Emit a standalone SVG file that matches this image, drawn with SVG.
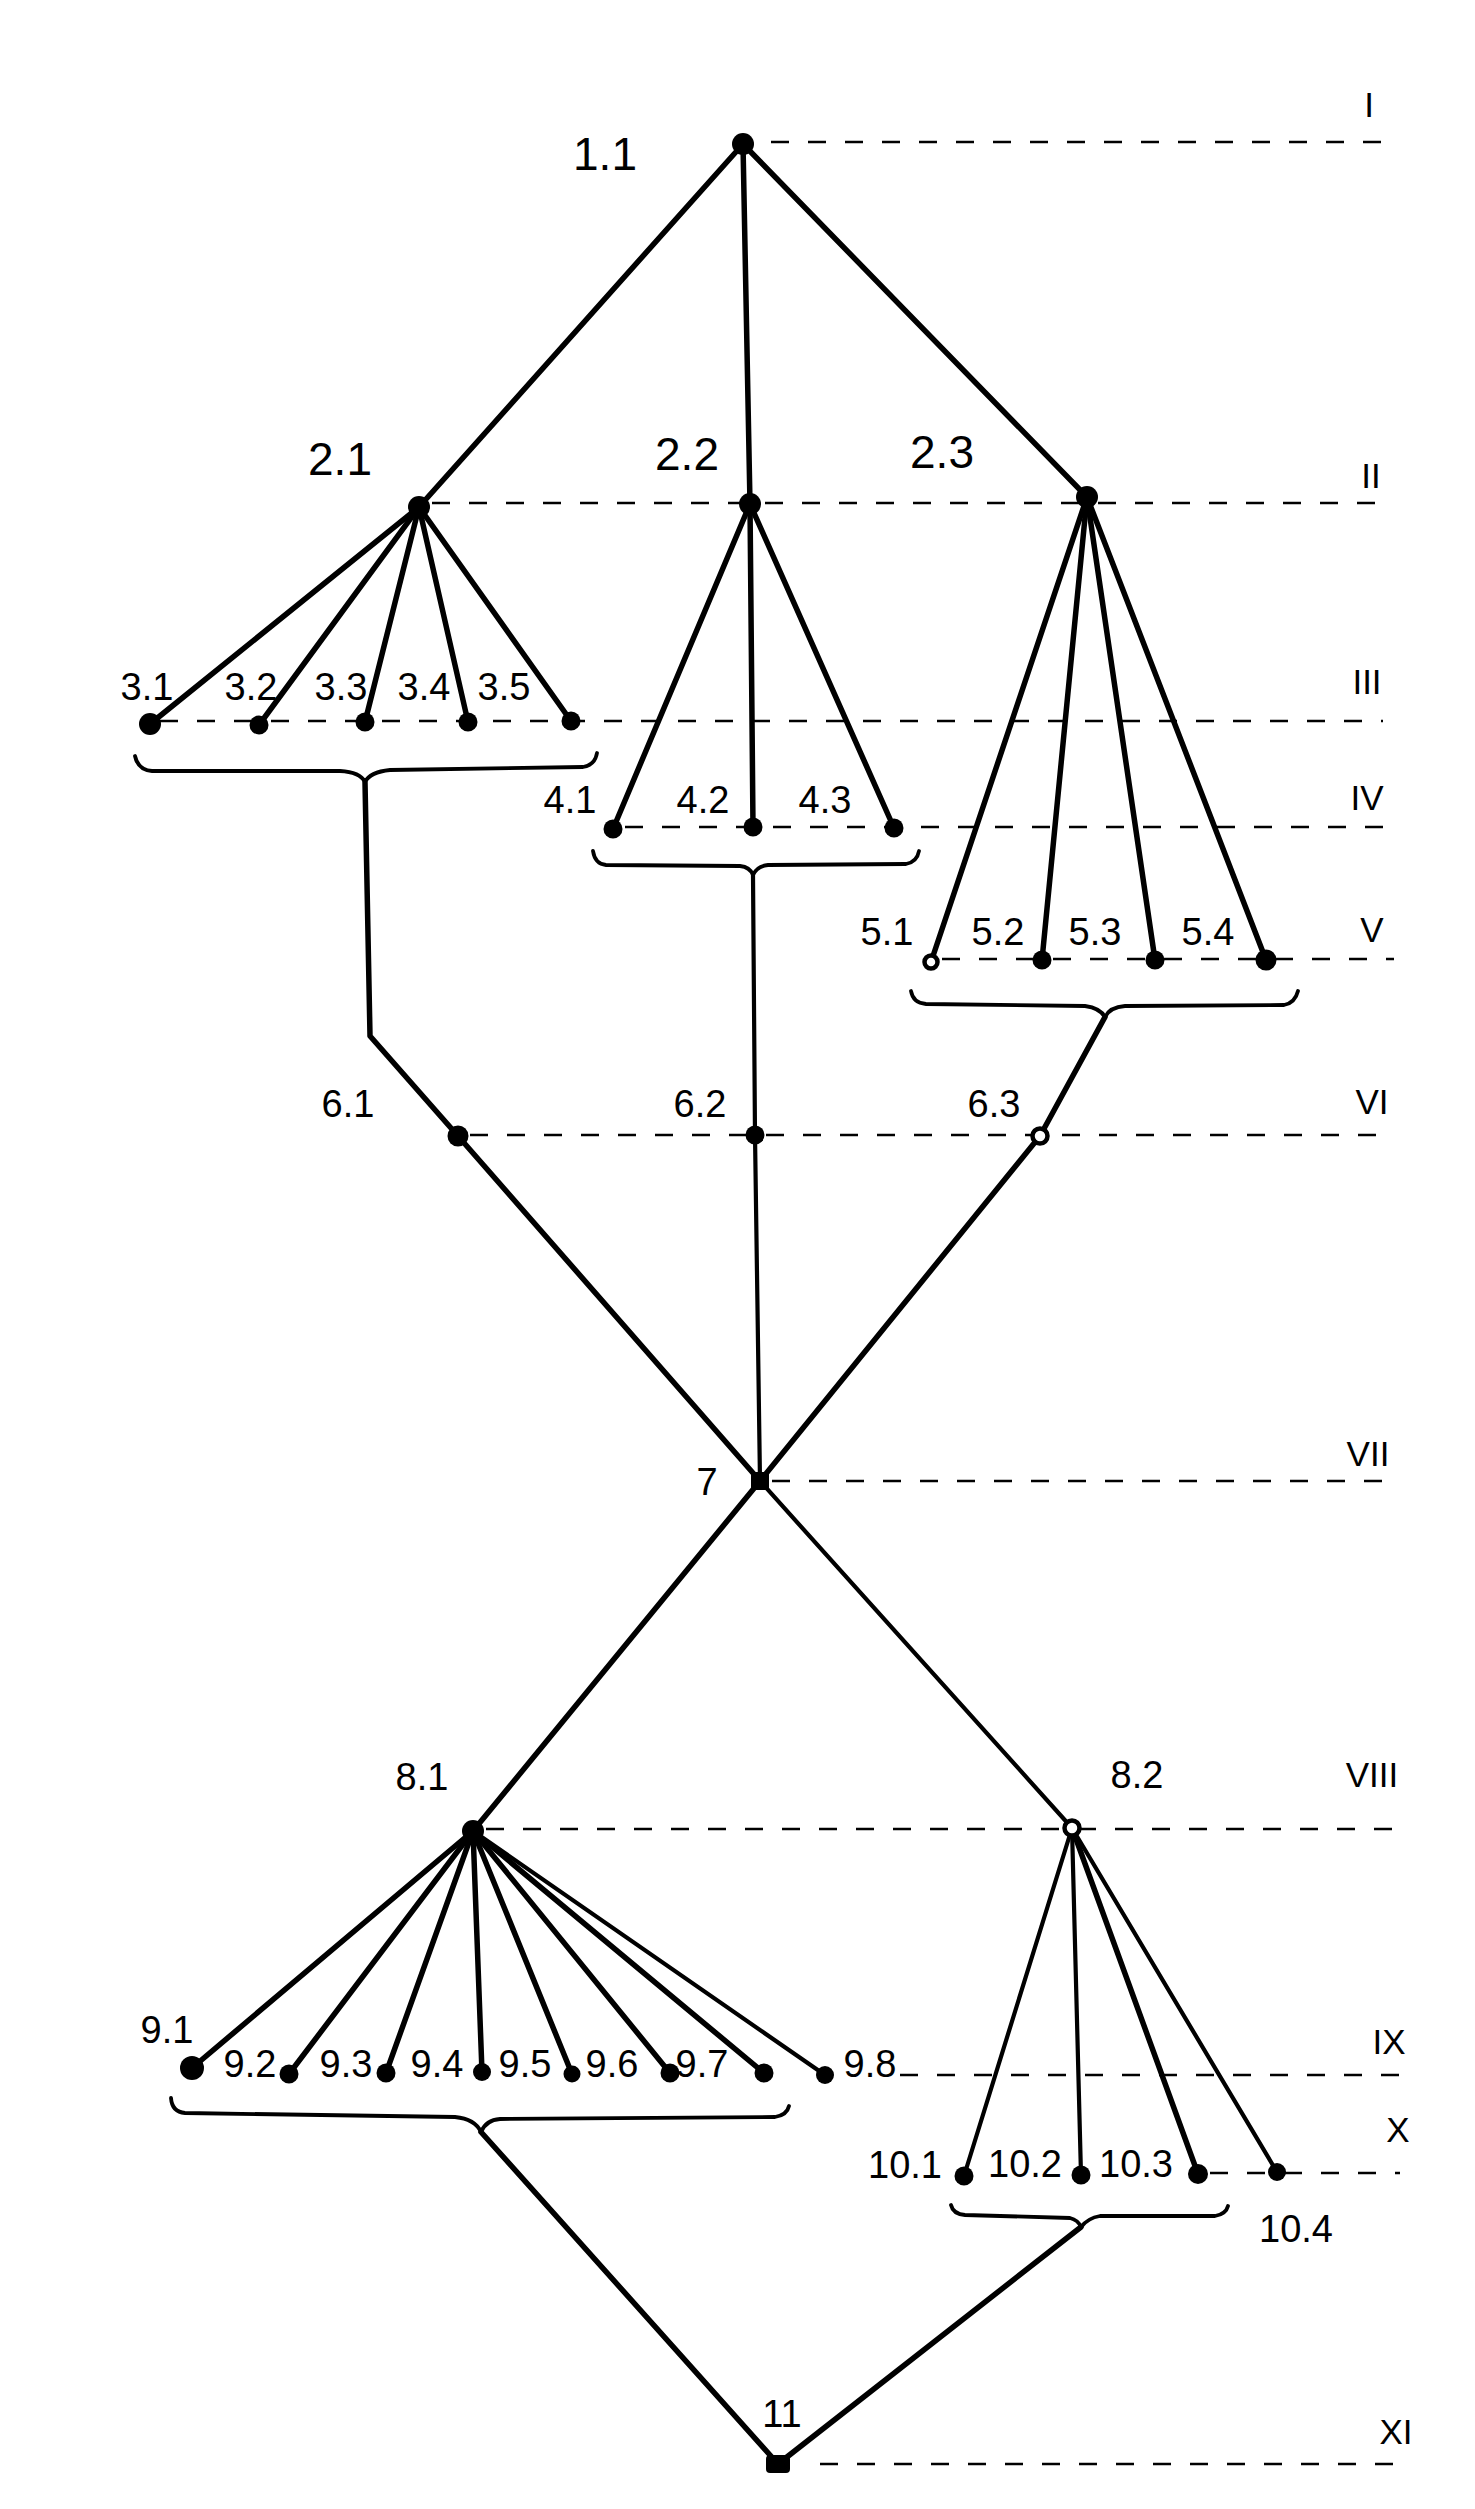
<svg xmlns="http://www.w3.org/2000/svg" width="1475" height="2509" viewBox="0 0 1475 2509">
<style>
text{font-family:"Liberation Sans",Arial,sans-serif;fill:#000;text-anchor:middle}
.big{font-size:46px}
.lab{font-size:38px}
.lvl{font-size:35px}
.c{stroke:#000;stroke-width:5.5;fill:none;stroke-linecap:round;stroke-linejoin:round}
.t{stroke:#000;stroke-width:4.2;fill:none;stroke-linecap:round}
.br{stroke:#000;stroke-width:3.8;fill:none;stroke-linecap:round;stroke-linejoin:round}
.d{stroke:#000;stroke-width:2.6;stroke-dasharray:18 19;fill:none}
.n{fill:#000}
.o{fill:#fff;stroke:#000;stroke-width:4.5}
</style>
<rect width="1475" height="2509" fill="#fff"/>
<g id="levels">
<line class="d" x1="771" y1="142" x2="1383" y2="142"/>
<line class="d" x1="432" y1="503" x2="1389" y2="503"/>
<line class="d" x1="160" y1="721" x2="1383" y2="721"/>
<line class="d" x1="625" y1="827" x2="1394" y2="827"/>
<line class="d" x1="942" y1="959" x2="1394" y2="959"/>
<line class="d" x1="470" y1="1135" x2="1394" y2="1135"/>
<line class="d" x1="772" y1="1481" x2="1398" y2="1481"/>
<line class="d" x1="486" y1="1829" x2="1403" y2="1829"/>
<line class="d" x1="900" y1="2075" x2="1403" y2="2075"/>
<line class="d" x1="1210" y1="2173" x2="1400" y2="2173"/>
<line class="d" x1="820" y1="2464" x2="1397" y2="2464"/>
<text class="lvl" x="1369" y="117">I</text>
<text class="lvl" x="1371" y="488">II</text>
<text class="lvl" x="1367" y="694">III</text>
<text class="lvl" x="1367" y="810">IV</text>
<text class="lvl" x="1372" y="942">V</text>
<text class="lvl" x="1372" y="1114">VI</text>
<text class="lvl" x="1368" y="1466">VII</text>
<text class="lvl" x="1372" y="1787">VIII</text>
<text class="lvl" x="1389" y="2054">IX</text>
<text class="lvl" x="1398" y="2142">X</text>
<text class="lvl" x="1396" y="2444">XI</text>
</g>
<g id="connectors">
<line class="c" x1="743" y1="144" x2="419" y2="507"/>
<line class="c" x1="743" y1="144" x2="750" y2="504"/>
<line class="c" x1="743" y1="144" x2="1087" y2="497"/>
<line class="c" x1="419" y1="507" x2="150" y2="724"/>
<line class="c" x1="419" y1="507" x2="259" y2="725"/>
<line class="c" x1="419" y1="507" x2="365" y2="722"/>
<line class="c" x1="419" y1="507" x2="468" y2="722"/>
<line class="c" x1="419" y1="507" x2="571" y2="721"/>
<line class="c" x1="750" y1="504" x2="613" y2="829"/>
<line class="c" x1="750" y1="504" x2="753" y2="827"/>
<line class="c" x1="750" y1="504" x2="894" y2="828"/>
<line class="c" x1="1087" y1="497" x2="931" y2="962"/>
<line class="c" x1="1087" y1="497" x2="1042" y2="960"/>
<line class="c" x1="1087" y1="497" x2="1155" y2="960"/>
<line class="c" x1="1087" y1="497" x2="1266" y2="960"/>
<path class="br" d="M135,756 Q138,770 152,771 L340,771 Q360,772 365,782 Q370,772 390,770 L583,767 Q595,765 597,753"/>
<path class="br" d="M593,851 Q595,864 606,865 L740,866 Q750,867 753,875 Q757,866 768,865 L906,864 Q917,862 919,851"/>
<path class="br" d="M911,991 Q913,1003 926,1004 L1085,1006 Q1100,1008 1105,1017 Q1110,1007 1125,1006 L1284,1005 Q1295,1003 1298,991"/>
<path class="c" d="M365,782 L370,1036 L458,1136 L760,1481"/>
<path class="t" d="M753,875 L755,1135 L760,1481"/>
<path class="c" d="M1105,1017 L1040,1136 L760,1481"/>
<line class="c" x1="760" y1="1481" x2="473" y2="1831"/>
<line class="t" x1="760" y1="1481" x2="1072" y2="1828"/>
<line class="c" x1="473" y1="1831" x2="192" y2="2068"/>
<line class="c" x1="473" y1="1831" x2="289" y2="2074"/>
<line class="c" x1="473" y1="1831" x2="386" y2="2073"/>
<line class="c" x1="473" y1="1831" x2="482" y2="2072"/>
<line class="c" x1="473" y1="1831" x2="572" y2="2074"/>
<line class="c" x1="473" y1="1831" x2="670" y2="2073"/>
<line class="c" x1="473" y1="1831" x2="764" y2="2073"/>
<line class="t" x1="473" y1="1831" x2="825" y2="2075"/>
<line class="t" x1="1072" y1="1828" x2="964" y2="2176"/>
<line class="t" x1="1072" y1="1828" x2="1081" y2="2175"/>
<line class="c" x1="1072" y1="1828" x2="1198" y2="2174"/>
<line class="t" x1="1072" y1="1828" x2="1277" y2="2172"/>
<path class="br" d="M171,2098 Q172,2112 185,2113 L455,2117 Q475,2119 481,2132 Q486,2120 500,2119 L775,2117 Q787,2115 789,2106"/>
<path class="br" d="M951,2205 Q953,2214 965,2215 L1070,2218 Q1078,2220 1081,2227 Q1088,2218 1100,2216 L1215,2216 Q1226,2214 1228,2206"/>
<line class="c" x1="481" y1="2132" x2="778" y2="2464"/>
<line class="c" x1="1081" y1="2227" x2="778" y2="2464"/>
</g>
<g id="n1.1"><circle class="n" cx="743" cy="144" r="11"/><text class="big" x="605" y="170">1.1</text></g>
<g id="n2.1"><circle class="n" cx="419" cy="507" r="11"/><text class="big" x="340" y="475">2.1</text></g>
<g id="n2.2"><circle class="n" cx="750" cy="504" r="11"/><text class="big" x="687" y="470">2.2</text></g>
<g id="n2.3"><circle class="n" cx="1087" cy="497" r="11"/><text class="big" x="942" y="468">2.3</text></g>
<g id="n3.1"><circle class="n" cx="150" cy="724" r="11"/><text class="lab" x="147" y="700">3.1</text></g>
<g id="n3.2"><circle class="n" cx="259" cy="725" r="9.5"/><text class="lab" x="251" y="700">3.2</text></g>
<g id="n3.3"><circle class="n" cx="365" cy="722" r="9.5"/><text class="lab" x="341" y="700">3.3</text></g>
<g id="n3.4"><circle class="n" cx="468" cy="722" r="9.5"/><text class="lab" x="424" y="700">3.4</text></g>
<g id="n3.5"><circle class="n" cx="571" cy="721" r="9.5"/><text class="lab" x="504" y="700">3.5</text></g>
<g id="n4.1"><circle class="n" cx="613" cy="829" r="9.5"/><text class="lab" x="570" y="813">4.1</text></g>
<g id="n4.2"><circle class="n" cx="753" cy="827" r="9.5"/><text class="lab" x="703" y="813">4.2</text></g>
<g id="n4.3"><circle class="n" cx="894" cy="828" r="9.5"/><text class="lab" x="825" y="813">4.3</text></g>
<g id="n5.1"><circle class="o" cx="931" cy="962" r="6.5"/><text class="lab" x="887" y="945">5.1</text></g>
<g id="n5.2"><circle class="n" cx="1042" cy="960" r="9.5"/><text class="lab" x="998" y="945">5.2</text></g>
<g id="n5.3"><circle class="n" cx="1155" cy="960" r="9.5"/><text class="lab" x="1095" y="945">5.3</text></g>
<g id="n5.4"><circle class="n" cx="1266" cy="960" r="10.5"/><text class="lab" x="1208" y="945">5.4</text></g>
<g id="n6.1"><circle class="n" cx="458" cy="1136" r="10.5"/><text class="lab" x="348" y="1117">6.1</text></g>
<g id="n6.2"><circle class="n" cx="755" cy="1135" r="9.5"/><text class="lab" x="700" y="1117">6.2</text></g>
<g id="n6.3"><circle class="o" cx="1040" cy="1136" r="7.5"/><text class="lab" x="994" y="1117">6.3</text></g>
<g id="n7"><rect class="n" x="751" y="1472" width="18" height="18"/><text class="lab" x="707" y="1495">7</text></g>
<g id="n8.1"><circle class="n" cx="473" cy="1831" r="11"/><text class="lab" x="422" y="1790">8.1</text></g>
<g id="n8.2"><circle class="o" cx="1072" cy="1828" r="7.5"/><text class="lab" x="1137" y="1788">8.2</text></g>
<g id="n9.1"><circle class="n" cx="192" cy="2068" r="12"/><text class="lab" x="167" y="2043">9.1</text></g>
<g id="n9.2"><circle class="n" cx="289" cy="2074" r="9.5"/><text class="lab" x="250" y="2077">9.2</text></g>
<g id="n9.3"><circle class="n" cx="386" cy="2073" r="9.5"/><text class="lab" x="346" y="2077">9.3</text></g>
<g id="n9.4"><circle class="n" cx="482" cy="2072" r="9"/><text class="lab" x="437" y="2077">9.4</text></g>
<g id="n9.5"><circle class="n" cx="572" cy="2074" r="8.5"/><text class="lab" x="525" y="2077">9.5</text></g>
<g id="n9.6"><circle class="n" cx="670" cy="2073" r="9.5"/><text class="lab" x="612" y="2077">9.6</text></g>
<g id="n9.7"><circle class="n" cx="764" cy="2073" r="9.5"/><text class="lab" x="702" y="2077">9.7</text></g>
<g id="n9.8"><circle class="n" cx="825" cy="2075" r="9"/><text class="lab" x="870" y="2077">9.8</text></g>
<g id="n10.1"><circle class="n" cx="964" cy="2176" r="9.5"/><text class="lab" x="905" y="2178">10.1</text></g>
<g id="n10.2"><circle class="n" cx="1081" cy="2175" r="9.5"/><text class="lab" x="1025" y="2177">10.2</text></g>
<g id="n10.3"><circle class="n" cx="1198" cy="2174" r="10"/><text class="lab" x="1136" y="2177">10.3</text></g>
<g id="n10.4"><circle class="n" cx="1277" cy="2172" r="9"/><text class="lab" x="1296" y="2242">10.4</text></g>
<g id="n11"><rect class="n" x="766" y="2455" width="24" height="18" rx="4"/><text class="lab" x="782" y="2427">11</text></g>
</svg>
